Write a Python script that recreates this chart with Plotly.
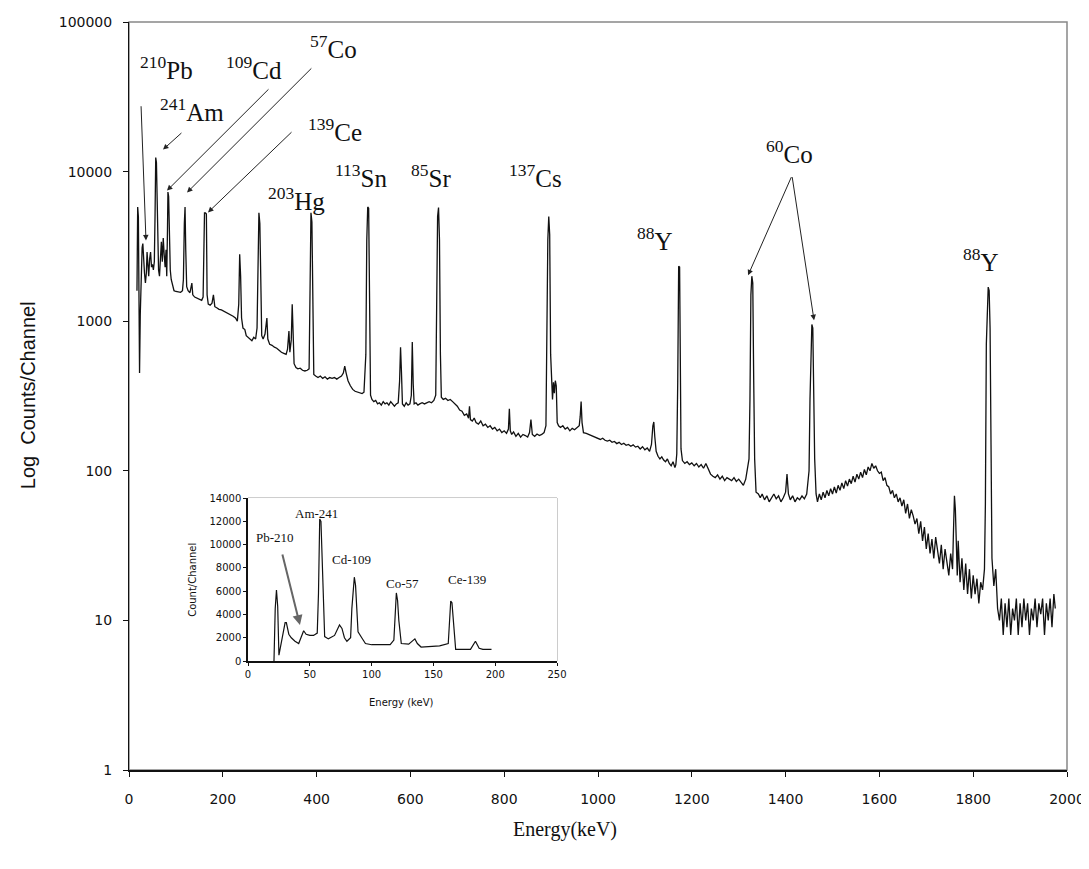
import plotly.graph_objects as go

# ---------------- main spectrum (energy keV, counts/channel) ----------------
main_energy = [
    17, 18.5, 20, 21, 22.5, 24, 26, 28, 29.5, 31, 33, 35, 37, 38.5, 40, 42, 44, 46, 48, 50,
    52, 54, 55.5, 57, 58.5, 60, 61.5, 63, 65, 67, 69, 71, 73, 75, 77, 79, 80.5, 82, 83, 84.5,
    86, 88, 90, 93, 96, 100, 105, 110, 114, 116, 118, 119.5, 121, 123, 126, 130, 134, 136, 140, 145,
    150, 155, 158, 159.5, 161, 163, 165, 166.5, 169, 173, 177, 180, 183, 187, 192, 197, 202, 207, 212, 217,
    222, 227, 231, 234, 236, 238, 240, 243, 247, 250, 254, 258, 262, 266, 270, 273, 275, 277, 279, 281,
    283, 286, 290, 294, 296,
    300, 305, 310, 315, 320, 325, 330, 335, 338, 341, 343, 346, 348, 350, 352, 356, 360, 365, 370, 375,
    380, 384, 386, 388, 390, 392, 394, 398, 403, 408, 413, 418, 423, 428, 433, 438, 443, 448, 453, 457,
    460, 463, 467, 472, 477, 482, 487, 492, 497, 501, 505, 507, 509, 511, 513, 515, 518, 522, 526, 530,
    534, 538, 542, 546, 550, 554, 558, 562, 566, 570, 574, 577, 579, 581, 583, 587, 591, 595, 599, 602,
    604, 606, 608, 612, 616, 620, 625, 630, 635, 640, 645, 650, 654, 656, 658, 660, 662, 664, 666, 670,
    675, 680, 685, 690, 695, 700, 705, 710, 715, 720, 724, 726, 728, 732, 736, 740, 745, 750, 755, 760,
    765, 770, 775, 780, 785, 790, 795, 800, 805, 809, 811, 813, 816, 820, 825, 830, 835, 840, 845, 850,
    854, 857, 860, 865, 870, 875, 880, 885, 889, 891, 893, 895, 897, 899, 901, 903, 905, 907, 909, 911,
    913, 916, 920, 925, 930, 935, 940, 945, 950, 955, 960, 962, 964, 966, 969, 975,
    980, 985, 990, 995, 1000, 1005, 1010, 1015, 1020, 1025, 1030, 1035, 1040, 1045, 1050, 1055, 1060, 1065, 1070, 1075,
    1080, 1085, 1090, 1095, 1100, 1105, 1110, 1114, 1117, 1119, 1121, 1124, 1128, 1132, 1136, 1140, 1144, 1148, 1152, 1156,
    1160, 1164, 1166, 1168, 1170, 1171, 1172, 1174, 1175, 1177, 1180, 1185, 1190, 1195, 1200, 1205, 1210, 1215, 1220, 1225,
    1230, 1236, 1240, 1245, 1250, 1255, 1260, 1265, 1270, 1275, 1280, 1285, 1290, 1295, 1300, 1305, 1310, 1315, 1320, 1322,
    1324, 1326, 1328, 1330, 1332, 1334, 1337, 1342, 1346, 1350, 1355, 1360, 1365, 1370, 1375, 1380, 1385, 1390, 1395, 1400,
    1403, 1406, 1410, 1415, 1420, 1425, 1430, 1435, 1440, 1445, 1450, 1452, 1454, 1456, 1458, 1460, 1462, 1465,
    1468, 1472, 1476, 1480, 1484, 1488, 1492, 1496, 1500, 1504, 1508, 1512, 1516, 1520, 1524, 1528, 1532, 1536, 1540, 1544,
    1548, 1552, 1556, 1560, 1564, 1568, 1572, 1576, 1580, 1584, 1588, 1592, 1596, 1600, 1604, 1608, 1612, 1616, 1620, 1624,
    1628, 1632, 1636, 1640, 1644, 1648, 1652, 1656, 1660, 1664, 1668, 1672, 1676, 1680, 1684, 1688, 1692, 1696, 1700, 1704,
    1708, 1712, 1716, 1720, 1724, 1728, 1732, 1736, 1740, 1744, 1748, 1752, 1756, 1758, 1760, 1762, 1764, 1766, 1768, 1772,
    1776, 1780, 1784, 1788, 1792, 1796, 1800, 1804, 1808, 1812, 1816, 1820, 1824, 1826, 1828, 1830, 1832, 1834, 1836, 1838,
    1840, 1844, 1848, 1852, 1856, 1860, 1864, 1868, 1872, 1876, 1880, 1884, 1888, 1892, 1896, 1900, 1904, 1908, 1912, 1916,
    1920, 1924, 1928, 1932, 1936, 1940, 1944, 1948, 1952, 1956, 1960, 1964, 1968, 1972, 1975,
]
main_counts = [
    1600, 5800, 5000, 1200, 450, 1100, 2300, 3100, 3300, 2600, 2100, 1800, 2100, 2900, 2400, 2000, 2600, 2900, 2300, 2400,
    2200, 2500, 5000, 12400, 11500, 5000, 2600, 2200, 2000, 2600, 3400, 2500, 3600, 2800, 2300, 3000, 2000, 4000, 7300, 6800,
    3500, 2200, 1900, 1700, 1600, 1580, 1570, 1560, 1600, 1900, 4500, 5800, 3000, 1700, 1600, 1550, 1800, 1500, 1450, 1420,
    1400, 1380, 1450, 5000, 5300, 5300, 5200, 1500, 1300, 1280, 1320, 1500, 1250, 1230, 1200, 1190, 1170, 1150, 1130, 1100,
    1080, 1050, 1000, 1300, 2800, 2000, 1050, 900, 880, 800, 780, 760, 740, 780, 760, 900, 2000, 5300, 4500, 1200,
    800, 760, 820, 1050, 760,
    700, 690, 670, 660, 640, 620, 610, 600, 650, 860, 620, 750, 1300, 900, 520, 490, 480, 485, 470, 465,
    470, 480, 1400, 5300, 4600, 800, 440, 430, 420, 430, 415, 425, 410, 420, 415, 420, 410, 420, 430, 450,
    500, 450, 400, 370, 350, 340, 335, 330, 328, 335, 600, 3500, 5800, 5700, 1200, 320, 300, 290, 295, 280,
    285, 275, 290, 280, 285, 275, 290, 280, 270, 280, 285, 400, 670, 450, 280, 270, 285, 275, 280, 320,
    725, 380, 280, 285, 275, 280, 285, 280, 285, 290, 285, 295, 320, 1100, 5000, 5750, 3500, 600, 310, 300,
    305, 295, 300, 290, 280, 270, 255, 250, 235, 240, 225, 270, 220, 215, 225, 210, 205, 215, 200, 205,
    195, 200, 190, 195, 185, 190, 180, 185, 178, 190, 260, 185, 175, 182, 170, 178, 168, 175, 172, 168,
    180, 220, 175, 170, 176, 172, 175, 180, 200, 900, 3500, 5000, 3800, 600, 420, 300, 390, 330, 400, 370,
    210, 200, 195, 200, 190, 195, 185, 192, 188, 195, 200, 230, 290, 210, 180, 178,
    175, 172, 170, 168, 165, 162, 165, 160, 158, 160, 155, 157, 152, 155, 150, 153, 148, 150, 146, 149,
    144, 146, 140, 145, 138, 142, 135, 150, 200, 212, 170, 135, 125, 120, 124, 118, 115, 120, 112, 108,
    115, 105, 110, 130, 390, 1500, 2330, 2300, 390, 140, 117, 112, 115, 110, 113, 108, 112, 106, 110, 104,
    112, 100, 95, 92, 90, 94, 88, 92, 86, 90, 88, 86, 90, 85, 88, 84, 80, 88, 110, 120,
    300, 1500, 2000, 1800, 400, 120, 72, 70, 66, 70, 64, 68, 62, 66, 70, 65, 68, 62, 66, 72,
    95, 70, 64, 68, 62, 66, 64, 68, 65, 70, 100, 300, 700, 950, 900, 400, 120, 70,
    62, 70, 64, 72, 66, 74, 68, 76, 70, 78, 71, 80, 74, 83, 76, 86, 79, 88, 82, 92,
    84, 95, 88, 98, 90, 102, 94, 106, 100, 112, 104, 108, 100, 96, 98, 86, 90, 80, 78, 70,
    74, 66, 70, 62, 66, 58, 64, 52, 60, 48, 55, 50, 44, 48, 38, 46, 34, 42, 30, 38,
    28, 35, 26, 36, 30, 24, 32, 22, 30, 25, 20, 28, 22, 40, 68, 55, 30, 20, 34, 18,
    26, 16, 24, 15, 22, 14, 20, 15, 19, 13, 18, 16, 22, 60, 700, 1400, 1690, 1600, 900, 150,
    26, 17, 22, 12, 10, 14, 8, 13, 9, 14, 8, 12, 10, 14, 8, 13, 9, 14, 10, 13,
    8, 12, 10, 14, 9, 13, 11, 14, 8, 13, 10, 14, 9, 15, 12,
]

# ---------------- inset spectrum (linear) ----------------
inset_energy = [
    21, 22, 23, 24, 25, 26, 28, 30, 31, 33, 35, 38, 41, 43, 45, 47, 50, 53, 56, 57,
    58, 59, 60, 61, 62, 65, 70, 74, 76, 78, 80, 83, 84, 86, 87, 88, 89, 92, 95, 100,
    105, 110, 115, 118, 120, 121, 122, 124, 130, 135, 137, 140, 145, 150, 155, 162, 164, 165, 167, 168,
    175, 180, 184, 187, 190, 197,
]
inset_counts = [
    0, 4500, 6100, 4700, 500, 1000, 2300, 3300, 3300, 2300, 2000, 1700, 1500, 2000, 2600, 2300, 2200, 2200, 2400, 5800,
    12200, 12000, 8000, 4000, 2100, 1900, 2200, 3100, 2800, 2000, 1700, 2000, 4500, 7200, 6500, 4500, 2500, 2000, 1500, 1400,
    1400, 1450, 1400, 1800, 5850, 5200, 3500, 1500, 1450, 1900, 1500, 1200, 1250, 1250, 1300, 1500, 5150, 5000, 2000, 1000,
    1000, 1000, 1700, 1100, 1000, 1000,
]

x_ticks = [0, 200, 400, 600, 800, 1000, 1200, 1400, 1600, 1800, 2000]
y_ticks = [1, 10, 100, 1000, 10000, 100000]
y_tick_text = ["1", "10", "100", "1000", "10000", "100000"]
inset_x_ticks = [0, 50, 100, 150, 200, 250]
inset_y_ticks = [0, 2000, 4000, 6000, 8000, 10000, 12000, 14000]
inset_y_text = ["0", "2000", "4000", "6000", "8000", "10000", "12000", "14000"]

# nuclide labels: (text, energy, log10 counts)
labels = [
    ("<sup>210</sup>Pb", 79, 4.69),
    ("<sup>241</sup>Am", 134, 4.41),
    ("<sup>109</sup>Cd", 266, 4.69),
    ("<sup>57</sup>Co", 437, 4.83),
    ("<sup>139</sup>Ce", 439, 4.28),
    ("<sup>203</sup>Hg", 358, 3.82),
    ("<sup>113</sup>Sn", 495, 3.97),
    ("<sup>85</sup>Sr", 644, 3.97),
    ("<sup>137</sup>Cs", 866, 3.97),
    ("<sup>88</sup>Y", 1121, 3.55),
    ("<sup>60</sup>Co", 1409, 4.13),
    ("<sup>88</sup>Y", 1817, 3.41),
]
# arrows: (tail E, tail log, head E, head log)
arrows = [
    (25.6, 4.447, 36.2, 3.54),
    (115, 4.267, 72.5, 4.147),
    (300.6, 4.56, 81, 3.873),
    (392, 4.70, 123.7, 3.86),
    (349.7, 4.273, 168.4, 3.727),
    (1413.6, 3.973, 1320, 3.307),
    (1413.6, 3.973, 1460.6, 3.007),
]
inset_labels = [
    ("Pb-210", 22, 10650),
    ("Am-241", 55, 12700),
    ("Cd-109", 84, 8680),
    ("Co-57", 125, 6700),
    ("Ce-139", 177, 6960),
]

serif = "Liberation Serif"
sans = "DejaVu Sans"

fig = go.Figure()
fig.add_trace(go.Scatter(x=main_energy, y=main_counts, mode="lines",
                         line=dict(color="#111111", width=1.3), xaxis="x", yaxis="y",
                         hoverinfo="skip"))
fig.add_trace(go.Scatter(x=inset_energy, y=inset_counts, mode="lines",
                         line=dict(color="#111111", width=1.2), xaxis="x2", yaxis="y2",
                         hoverinfo="skip"))

ann = []
for t, x, y in labels:
    ann.append(dict(text=t, x=x, y=y, xref="x", yref="y", showarrow=False,
                    font=dict(family=serif, size=25, color="#111111")))
for ax, ay, x, y in arrows:
    ann.append(dict(text="", x=x, y=y, ax=ax, ay=ay, xref="x", yref="y", axref="x", ayref="y",
                    showarrow=True, arrowhead=2, arrowsize=1.1, arrowwidth=1, arrowcolor="#222222",
                    standoff=0, startstandoff=0))
for t, x, y in inset_labels:
    ann.append(dict(text=t, x=x, y=y, xref="x2", yref="y2", showarrow=False,
                    font=dict(family=serif, size=13, color="#111111")))
ann.append(dict(text="", x=42, y=3090, ax=27.5, ay=9280, xref="x2", yref="y2", axref="x2", ayref="y2",
                showarrow=True, arrowhead=2, arrowsize=1, arrowwidth=2, arrowcolor="#666666",
                standoff=0))
# axis titles
ann.append(dict(text="Energy(keV)", x=0.465, y=-0.080, xref="paper", yref="paper", showarrow=False,
                font=dict(family=serif, size=20, color="#111111"), xanchor="center", yanchor="middle"))
ann.append(dict(text="Log  Counts/Channel", x=-0.1077, y=0.501, xref="paper", yref="paper", showarrow=False,
                textangle=-90, font=dict(family="Liberation Sans", size=20, color="#111111"),
                xanchor="center", yanchor="middle"))
ann.append(dict(text="Energy (keV)", x=0.29, y=0.0896, xref="paper", yref="paper", showarrow=False,
                font=dict(family=sans, size=10, color="#111111"), xanchor="center", yanchor="middle"))
ann.append(dict(text="Count/Channel", x=0.067, y=0.254, xref="paper", yref="paper", showarrow=False,
                textangle=-90, font=dict(family=sans, size=10, color="#111111"),
                xanchor="center", yanchor="middle"))

shapes = [
    dict(type="rect", xref="paper", yref="paper", x0=0, y0=0, x1=1, y1=1,
         line=dict(color="#888888", width=1.5), layer="below"),
    dict(type="rect", xref="x2 domain", yref="y2 domain", x0=0, y0=0, x1=1, y1=1,
         line=dict(color="#999999", width=1), layer="below"),
]

# the page body adds an 8 px offset, so the figure is 8 px smaller with 8 px smaller left/top margins
fig.update_layout(
    width=1081, height=861,
    margin=dict(l=121, r=22, t=14, b=99, autoexpand=False),
    paper_bgcolor="white", plot_bgcolor="white",
    showlegend=False,
    annotations=ann, shapes=shapes,
    xaxis=dict(range=[0, 2000], tickmode="array", tickvals=x_ticks, automargin=False,
               showgrid=False, zeroline=False, showline=True, linecolor="#111111", linewidth=2,
               ticks="outside", ticklen=5, tickcolor="#111111", ticklabelstandoff=10,
               ticklabeloverflow="allow",
               tickfont=dict(family=sans, size=14, color="#111111")),
    yaxis=dict(type="log", range=[0, 5], tickmode="array", tickvals=y_ticks, ticktext=y_tick_text,
               automargin=False,
               showgrid=False, zeroline=False, showline=True, linecolor="#111111", linewidth=1,
               ticks="outside", ticklen=5, tickcolor="#111111", ticklabelstandoff=8,
               tickfont=dict(family=sans, size=14, color="#111111")),
    xaxis2=dict(domain=[0.1269, 0.4563], anchor="y2", range=[0, 250], tickmode="array",
                tickvals=inset_x_ticks, showgrid=False, zeroline=False, showline=True, automargin=False,
                linecolor="#111111", linewidth=2, ticks="outside", ticklen=3, tickcolor="#111111",
                tickfont=dict(family=sans, size=10, color="#111111")),
    yaxis2=dict(domain=[0.1457, 0.3636], anchor="x2", range=[0, 14000], tickmode="array",
                tickvals=inset_y_ticks, ticktext=inset_y_text, showgrid=False, zeroline=False,
                automargin=False,
                showline=True, linecolor="#111111", linewidth=1.5, ticks="outside", ticklen=3,
                tickcolor="#111111", tickfont=dict(family=sans, size=10, color="#111111")),
)

fig.write_html("out.html")
